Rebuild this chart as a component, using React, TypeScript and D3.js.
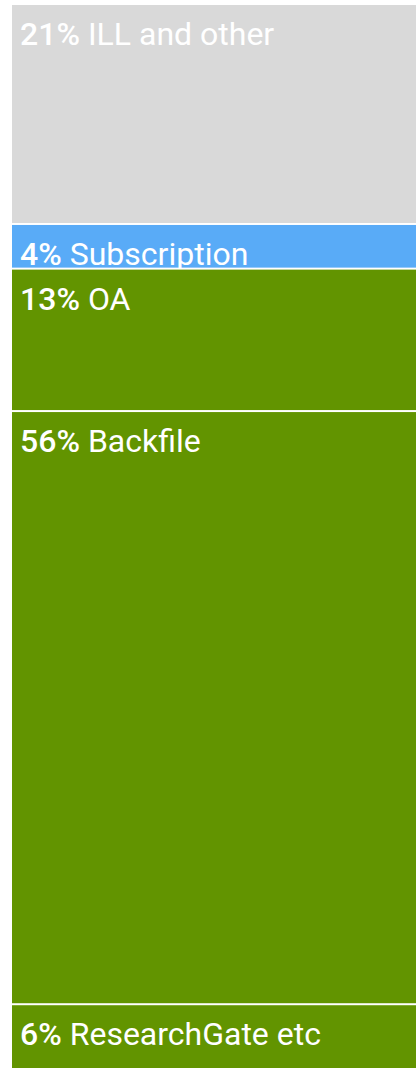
import * as d3 from 'd3';

// share of article access routes, top to bottom
const categories = ['ILL and other', 'Subscription', 'OA', 'Backfile', 'ResearchGate etc'];
const shares = [20.6, 4.2, 13.4, 55.8, 6.0];
const colors = ['#d9d9d9', '#59abf7', '#629400', '#629400', '#629400'];

const W = 416;
const H = 1070;
const margin = { top: 5, right: 0, bottom: 2, left: 12 };

export default function App() {
    const total = d3.sum(shares);
    const y = d3.scaleLinear()
        .domain([0, total])
        .range([margin.top, H - margin.bottom]);

    const starts = [0, ...d3.cumsum(shares)];
    const gap = 2;

    const rows = categories.map((name, i) => ({
        name,
        value: shares[i],
        color: colors[i],
        y0: y(starts[i]) + (i > 0 ? gap / 2 : 0),
        y1: y(starts[i + 1]) - (i < categories.length - 1 ? gap / 2 : 0),
    }));

    const fmt = d3.format('.0f');

    return (
        <svg
            width={W}
            height={H}
            style={{ position: 'absolute', left: 0, top: 0, background: '#fff' }}
            fontFamily="Roboto, 'Noto Sans', sans-serif"
        >
            {rows.map(r => (
                <g key={r.name}>
                    <rect
                        x={margin.left}
                        y={r.y0}
                        width={W - margin.left - margin.right}
                        height={r.y1 - r.y0}
                        fill={r.color}
                    />
                    <text x={margin.left + 8} y={r.y0 + 40} fill="#fff" fontSize={32}>
                        <tspan fontWeight={500}>{fmt(r.value)}%</tspan>
                        <tspan> {r.name}</tspan>
                    </text>
                </g>
            ))}
        </svg>
    );
}
